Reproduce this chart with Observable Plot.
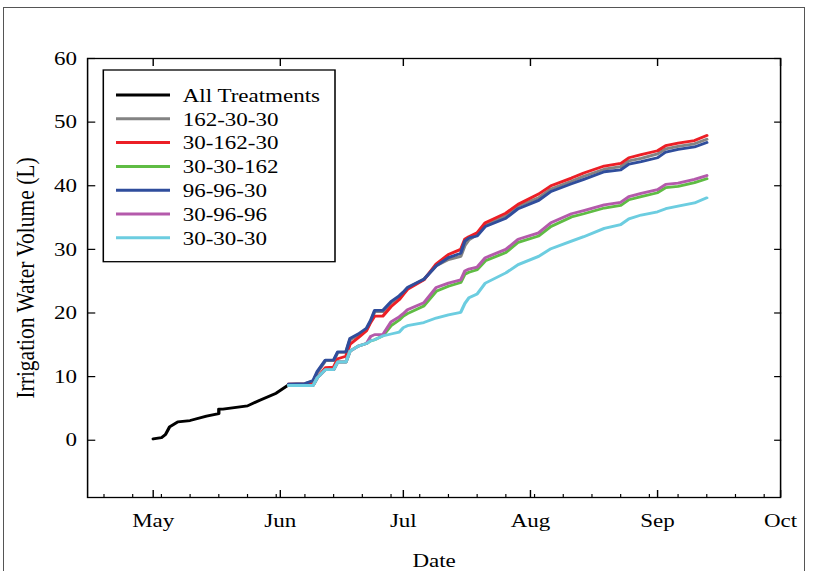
<!DOCTYPE html>
<html>
<head>
<meta charset="utf-8">
<script src="https://cdn.jsdelivr.net/npm/d3@7"></script>
<script src="https://cdn.jsdelivr.net/npm/@observablehq/plot@0.6"></script>
<style>
  html, body { margin: 0; padding: 0; background: #fff; }
  #wrap { position: relative; width: 815px; height: 571px; overflow: hidden; background: #fff; }
  #wrap svg { position: absolute; left: 0; top: 0; }
  #border { position: absolute; left: 3px; top: 7px; width: 802px; height: 620px; border: 1px solid #555; box-sizing: border-box; pointer-events: none; }
</style>
</head>
<body>
<div id="wrap"><div id="border"></div></div>
<script>
// ---------------- data ----------------
const seriesNames  = ["All Treatments", "162-30-30", "30-162-30", "30-30-162", "96-96-30", "30-96-96", "30-30-30"];
const seriesColors = ["#000000", "#838383", "#ec1f26", "#5fbc44", "#2f4d9c", "#b45aab", "#6ccde0"];
const drawOrder    = ["All Treatments", "162-30-30", "30-162-30", "96-96-30", "30-30-162", "30-96-96", "30-30-30"];

const allDates  = ["2009-05-01","2009-05-03","2009-05-04","2009-05-05","2009-05-07","2009-05-10","2009-05-14",
                   "2009-05-17","2009-05-17","2009-05-18","2009-05-24","2009-05-27","2009-05-31","2009-06-03"];
const allValues = [0.2, 0.4, 0.9, 2.1, 2.9, 3.1, 3.8, 4.2, 4.9, 4.9, 5.4, 6.3, 7.4, 8.7];

const trtDates = ["2009-06-03","2009-06-07","2009-06-09","2009-06-10","2009-06-12","2009-06-14","2009-06-15",
                  "2009-06-17","2009-06-18","2009-06-20","2009-06-22","2009-06-23","2009-06-24","2009-06-26",
                  "2009-06-28","2009-06-30","2009-07-01","2009-07-02","2009-07-06","2009-07-09","2009-07-12",
                  "2009-07-15","2009-07-16","2009-07-17","2009-07-19","2009-07-21","2009-07-26","2009-07-29",
                  "2009-08-03","2009-08-06","2009-08-11","2009-08-14","2009-08-19","2009-08-23","2009-08-25",
                  "2009-08-28","2009-09-01","2009-09-03","2009-09-06","2009-09-10","2009-09-13"];

const t162_30_30 = [8.8, 8.9, 9.3, 10.6, 12.5, 12.5, 13.8, 13.8, 15.8, 16.5, 17.4, 18.6, 20.2, 20.2, 21.6, 22.5, 23.2, 23.9, 25.3, 27.4, 28.4,
                    28.9, 30.6, 31.5, 32.3, 33.9, 35.3, 36.8, 38.1, 39.5, 40.7, 41.5, 42.6, 43.0, 43.9, 44.3, 45.0, 45.8, 46.2, 46.6, 47.3];
const t30_162_30 = [8.8, 8.8, 8.8, 9.8, 11.4, 11.5, 12.8, 13.2, 15.1, 16.1, 17.2, 18.5, 19.5, 19.5, 21.0, 22.1, 22.9, 23.7, 25.2, 27.7, 29.2,
                    30.0, 31.6, 32.0, 32.6, 34.2, 35.7, 37.1, 38.7, 40.0, 41.2, 42.0, 43.1, 43.5, 44.4, 44.9, 45.5, 46.3, 46.7, 47.1, 47.9];
const t30_30_162 = [8.6, 8.6, 8.6, 9.8, 11.1, 11.1, 12.3, 12.3, 14.0, 14.8, 15.2, 15.6, 15.8, 16.4, 18.0, 18.9, 19.5, 19.9, 21.1, 23.4, 24.2,
                    24.8, 26.1, 26.4, 26.8, 28.2, 29.5, 31.1, 32.1, 33.6, 35.1, 35.6, 36.5, 36.9, 37.8, 38.3, 38.9, 39.7, 39.9, 40.5, 41.1];
const t96_96_30  = [8.8, 8.9, 9.4, 10.8, 12.6, 12.6, 13.9, 13.9, 16.0, 16.7, 17.6, 18.8, 20.4, 20.4, 21.8, 22.7, 23.3, 24.0, 25.3, 27.4, 28.7,
                    29.4, 31.3, 31.8, 32.1, 33.6, 34.9, 36.4, 37.7, 39.1, 40.3, 41.0, 42.2, 42.5, 43.4, 43.8, 44.4, 45.3, 45.7, 46.1, 46.8];
const t30_96_96  = [8.6, 8.6, 8.6, 9.8, 11.1, 11.1, 12.3, 12.3, 14.0, 14.8, 15.2, 16.3, 16.6, 16.6, 18.6, 19.4, 19.9, 20.5, 21.6, 24.0, 24.7,
                    25.2, 26.6, 26.9, 27.2, 28.7, 30.0, 31.6, 32.6, 34.2, 35.6, 36.1, 37.0, 37.4, 38.3, 38.8, 39.4, 40.2, 40.4, 41.0, 41.6];
const t30_30_30  = [8.6, 8.6, 8.6, 9.8, 11.1, 11.1, 12.3, 12.3, 14.0, 14.8, 15.2, 15.6, 15.8, 16.4, 16.7, 17.0, 17.7, 18.0, 18.5, 19.2, 19.7,
                    20.1, 21.5, 22.4, 23.0, 24.7, 26.3, 27.6, 28.9, 30.1, 31.3, 32.0, 33.3, 33.9, 34.8, 35.4, 35.9, 36.4, 36.8, 37.3, 38.1];

const yTicks      = [0, 10, 20, 30, 40, 50, 60];
const monthTicks  = ["2009-05-01","2009-06-01","2009-07-01","2009-08-01","2009-09-01","2009-10-01"];
const xDomain     = ["2009-04-15","2009-10-01"];
const yDomain     = [-9, 60];

// ---------------- table ----------------
const trtSeries = {
  "162-30-30": t162_30_30, "30-162-30": t30_162_30, "30-30-162": t30_30_162,
  "96-96-30": t96_96_30, "30-96-96": t30_96_96, "30-30-30": t30_30_30
};
const rows = [];
for (const name of drawOrder) {
  if (name === "All Treatments") {
    allDates.forEach((d, i) => rows.push({series: name, date: new Date(d), value: allValues[i]}));
  } else {
    trtDates.forEach((d, i) => rows.push({series: name, date: new Date(d), value: trtSeries[name][i]}));
  }
}

// ---------------- layout ----------------
const W = 815, H = 571, S = 1.18;      // horizontal stretch of the original figure
const W0 = W / S;
const font = "'Liberation Serif', 'Times New Roman', Times, serif";
const xStart = new Date(xDomain[0]), xEnd = new Date(xDomain[1]);
const weekTicks = d3.utcSunday.range(xStart, xEnd);
const monthDates = monthTicks.map(d => new Date(d));

const svg = Plot.plot({
  width: W0, height: H,
  marginLeft: 87 / S, marginRight: (W - 780) / S, marginTop: 58, marginBottom: 74,
  x: {type: "utc", domain: [xStart, xEnd]},
  y: {domain: yDomain},
  color: {domain: seriesNames, range: seriesColors},
  style: {fontFamily: font, fontSize: "19px", color: "#000", background: "transparent", overflow: "visible"},
  marks: [
    Plot.line(rows, {x: "date", y: "value", z: "series", stroke: "series", strokeWidth: 2.8}),
    Plot.frame({stroke: "#000", strokeWidth: 1.3}),
    Plot.axisY(yTicks, {anchor: "left", tickSize: -7, tickPadding: 16, strokeWidth: 1.2, label: null, fontSize: 19.5}),
    Plot.axisY([], {anchor: "left", tickSize: 0, label: "Irrigation Water Volume (L)", labelAnchor: "center",
      labelOffset: 61, labelArrow: "none", fontSize: 21.5}),
    Plot.axisY(yTicks, {anchor: "right", tickSize: -6, tickFormat: () => "", label: null, strokeWidth: 1.2}),
    Plot.axisX(monthDates, {anchor: "bottom", tickSize: -7, tickPadding: 23, strokeWidth: 1.2,
      tickFormat: d3.utcFormat("%b"), label: "Date", labelAnchor: "center", labelOffset: 69, labelArrow: "none", fontSize: 19.5}),
    Plot.axisX(weekTicks, {anchor: "bottom", tickSize: -3, tickFormat: () => "", label: null, strokeWidth: 1}),
    Plot.axisX(monthDates, {anchor: "top", tickSize: -7, tickFormat: () => "", label: null, strokeWidth: 1.2})
  ]
});

svg.setAttribute("viewBox", `0 0 ${W0} ${H}`);
svg.setAttribute("width", W);
svg.setAttribute("height", H);
svg.setAttribute("preserveAspectRatio", "none");
svg.style.width = W + "px";
svg.style.height = H + "px";
svg.style.maxWidth = "none";

// ---------------- legend (inside the svg so it shares the stretch) ----------------
const lg = d3.select(svg).append("g")
  .attr("font-family", font).attr("font-size", 19.5).attr("text-anchor", "start");
lg.append("rect")
  .attr("x", 103.3 / S).attr("y", 70).attr("width", (335 - 103.3) / S).attr("height", 191.7)
  .attr("fill", "#fff").attr("stroke", "#000").attr("stroke-width", 1.3);
seriesNames.forEach((name, i) => {
  const y = 95 + i * 23.8;
  lg.append("line").attr("x1", 116 / S).attr("x2", 170 / S).attr("y1", y).attr("y2", y)
    .attr("stroke", seriesColors[i]).attr("stroke-width", 3);
  lg.append("text").attr("x", 182.7 / S).attr("y", y).attr("dy", "0.35em")
    .attr("fill", "#000").attr("text-anchor", "start").text(name);
});

document.getElementById("wrap").insertBefore(svg, document.getElementById("border"));
</script>
</body>
</html>
